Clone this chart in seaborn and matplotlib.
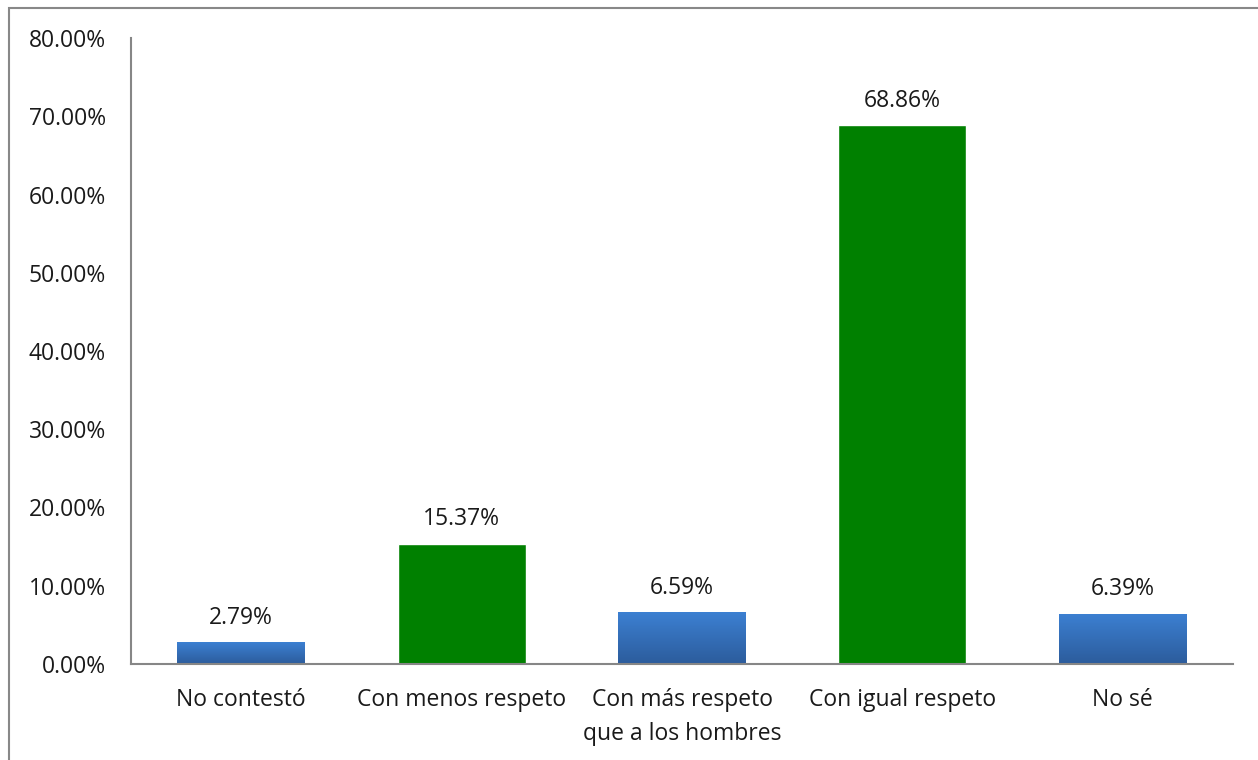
import numpy as np
import pandas as pd
import matplotlib
matplotlib.use("Agg")
import matplotlib.pyplot as plt
from matplotlib.colors import LinearSegmentedColormap
from matplotlib.patches import Rectangle
import seaborn as sns

# === DATA ===
categories = ["No contestó", "Con menos respeto", "Con más respeto\nque a los hombres",
              "Con igual respeto", "No sé"]
values = [2.79, 15.37, 6.59, 68.86, 6.39]
bar_kind = ["blue", "green", "blue", "green", "blue"]

sns.set_style("white")
plt.rcParams['font.family'] = ['Open Sans', 'DejaVu Sans']

df = pd.DataFrame({"cat": categories, "val": values, "kind": bar_kind})

fig = plt.figure(figsize=(12.58, 7.6), dpi=100)
ax = fig.add_axes([131 / 1258, 96 / 760, 1102 / 1258, 626 / 760])

sns.barplot(data=df, x="cat", y="val", hue="kind",
            palette={"blue": "#3570b8", "green": "#008000"},
            dodge=False, width=0.58, legend=False, ax=ax, saturation=1)

# gradient for the blue bars
blue_cmap = LinearSegmentedColormap.from_list("bl", ["#2c5c9c", "#3c80d2"])
grad = np.linspace(0, 1, 256).reshape(-1, 1)
for patch in ax.patches:
    if patch.get_height() == 0 or np.isnan(patch.get_height()):
        continue
    fc = patch.get_facecolor()
    if fc[1] > 0.45 and fc[0] < 0.1:
        continue  # green bar
    x0, w, h = patch.get_x(), patch.get_width(), patch.get_height()
    im = ax.imshow(grad, cmap=blue_cmap, aspect="auto", origin="lower",
                   extent=[x0, x0 + w, 0, h], zorder=patch.get_zorder() + 0.1)
    im.set_clip_path(patch)

# value labels
for i, v in enumerate(values):
    ax.annotate(f"{v:.2f}%", (i, v), xytext=(0, 9), textcoords="offset points",
                ha="center", va="bottom", fontsize=16.5, color="#1a1a1a")

ax.set_xlim(-0.5, len(categories) - 0.5)
ax.set_ylim(0, 80)
ax.set_yticks(np.arange(0, 81, 10))
ax.set_yticklabels([f"{t:.2f}%" for t in np.arange(0, 81, 10)])
ax.set_xlabel("")
ax.set_ylabel("")
ax.tick_params(axis="y", length=0, pad=18, labelsize=16.5, labelcolor="#1a1a1a")
ax.tick_params(axis="x", length=0, pad=17, labelsize=16.5, labelcolor="#1a1a1a")
for lbl in ax.get_xticklabels():
    lbl.set_linespacing(1.55)

for s in ["top", "right"]:
    ax.spines[s].set_visible(False)
for s in ["left", "bottom"]:
    ax.spines[s].set_color("#868686")
    ax.spines[s].set_linewidth(1.5)

# outer chart border
fig.patches.append(Rectangle((9 / 1258, -0.05), 1.2, (752 / 760) + 0.05,
                             transform=fig.transFigure, fill=False,
                             edgecolor="#888888", linewidth=1.5))

plt.savefig("out.png", dpi=100)
